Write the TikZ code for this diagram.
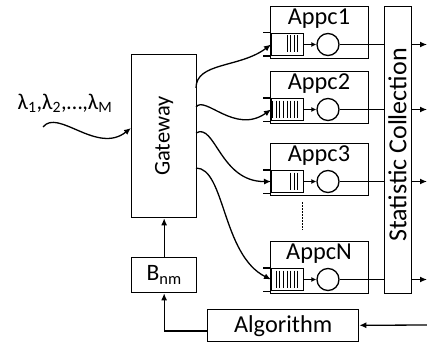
\documentclass[tikz,border=0pt]{standalone}
\usepackage{fontspec}
\setmainfont{Carlito}
\usetikzlibrary{arrows.meta}
\begin{document}
\begin{tikzpicture}[x=1pt,y=-1pt, line width=1.3pt,
  box/.style={draw, inner sep=0pt, anchor=north west},
  >={Latex[length=7pt,width=6pt]},
  txt/.style={font=\fontsize{24.3}{26}\selectfont, inner sep=0pt},
  queue/.style={draw, inner sep=0pt, minimum width=32pt, minimum height=22pt, anchor=west},
  server/.style={draw, circle, inner sep=0pt, minimum size=22pt},
  stripe/.style={line width=1pt}]
\useasboundingbox (0,0) rectangle (427,342);

% Gateway
\node[box, minimum width=65pt, minimum height=163pt] (gw) at (131,54) {};
\node[txt, rotate=90, font=\fontsize{22.5}{24}\selectfont] (gwl) at (gw.center) {Gateway};

% B_nm
\node[box, minimum width=65pt, minimum height=35pt, font=\fontsize{23.5}{24}\selectfont] (bnm) at (131,257) {B\textsubscript{nm}};

% Algorithm
\node[box, minimum width=151pt, minimum height=32pt, font=\fontsize{24.3}{26}\selectfont] (alg) at (207,309) {Algorithm};

% Statistic Collection
\node[box, minimum width=27pt, minimum height=287pt] (sc) at (384,6) {};
\node[txt, rotate=90, font=\fontsize{26}{28}\selectfont] (scl) at (397.5,145) {Statistic Collection};

% Appc boxes
\foreach \i/\t/\lab/\n in {1/6/1/4, 2/71/2/8, 3/143/3/3, 4/241/N/7}{
  \pgfmathsetmacro{\qc}{\t+38.5}
  \node[box, minimum width=98pt, minimum height=52pt] (a\i) at (270,\t) {};
  \node[txt] (at\i) at (319,{\t+13}) {Appc\lab};
  \node[queue] (q\i) at (271,\qc) {};
  \draw (q\i.north west) -- ++(-8,0);
  \draw (q\i.south west) -- ++(-8,0);
  \foreach \j in {1,...,\n}{
    \draw[stripe] ({301.5-\j*3.6},{\qc-9}) -- ({301.5-\j*3.6},{\qc+8});
  }
  \node[server] (c\i) at (328,\qc) {};
  \draw[->, >={Latex[length=5pt,width=5pt]}] (q\i.east) -- (c\i.west);
  \draw (c\i.east) -- (sc.west |- c\i.east);
  \coordinate (o\i) at (427,\qc);
  \draw[->] (sc.east |- o\i) -- (o\i);
}

% dots between Appc3 and AppcN
\draw[line width=1pt, dash pattern=on 1.5pt off 1.5pt] (302,202) -- (302,230);

% Gateway to Appc curves
\coordinate (g1) at (196,88);
\coordinate (g2) at (196,107);
\coordinate (g3) at (196,133);
\coordinate (g4) at (196,168);
\draw[->] (g1) .. controls (196,62) and (240,68) .. (q1.west);
\draw[->] (g2) .. controls (205,95) and (235,135) .. (q2.west);
\draw[->] (g3) .. controls (215,122) and (220,182) .. (q3.west);
\draw[->] (g4) .. controls (225,168) and (222,255) .. (q4.west);

% lambda input
\node[txt, font=\fontsize{22.5}{24}\selectfont] (lam) at (65,103) {λ\textsubscript{1},λ\textsubscript{2},…,λ\textsubscript{M}};
\coordinate (lstart) at (43,127);
\coordinate (gin) at (131,128);
\draw[->] (lstart) .. controls (58,108) and (97,155) .. (gin);

% feedback
\draw[->] (bnm) -- (gw);
\coordinate (algin) at (207,331);
\draw[->] (algin) -| (bnm.south);
\coordinate (ain) at (427,325);
\draw[->] (ain) -- (alg);
\end{tikzpicture}
\end{document}
